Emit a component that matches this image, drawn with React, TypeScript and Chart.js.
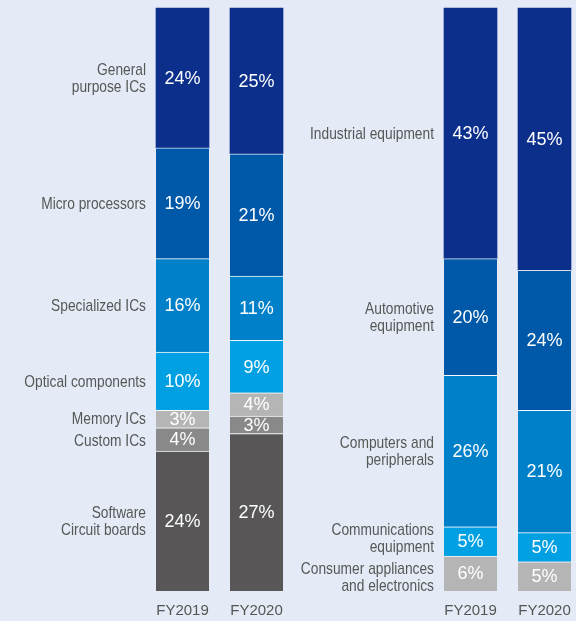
import React, { useEffect, useRef } from 'react';
import { Chart, registerables } from 'chart.js';

Chart.register(...registerables);

const YEARS = ['FY2019', 'FY2020'];

const LEFT_CATEGORIES = [
  'General\npurpose ICs',
  'Micro processors',
  'Specialized ICs',
  'Optical components',
  'Memory ICs',
  'Custom ICs',
  'Software\nCircuit boards',
];
const LEFT_FY2019 = [24, 19, 16, 10, 3, 4, 24];
const LEFT_FY2020 = [25, 21, 11, 9, 4, 3, 27];
const LEFT_COLORS = ['#0b2f8b', '#0058a8', '#0080c8', '#00a0e3', '#b5b5b5', '#898989', '#585657'];

const RIGHT_CATEGORIES = [
  'Industrial equipment',
  'Automotive\nequipment',
  'Computers and\nperipherals',
  'Communications\nequipment',
  'Consumer appliances\nand electronics',
];
const RIGHT_FY2019 = [43, 20, 26, 5, 6];
const RIGHT_FY2020 = [45, 24, 21, 5, 5];
const RIGHT_COLORS = ['#0b2f8b', '#0058a8', '#0080c8', '#00a0e3', '#b5b5b5'];

const BG = '#e4ebf6';
const TEXT_FONT = '"Liberation Sans", Arial, sans-serif';
const CONDENSE = 0.81;
const LINE_H = 17;
const MIN_GAP = 5;

const labelsPlugin = {
  id: 'segLabels',
  afterDatasetsDraw(chart: any) {
    const ctx = chart.ctx;
    ctx.save();
    const cats: { lines: string[]; cy: number; right: number }[] = [];
    chart.data.datasets.forEach((ds: any, di: number) => {
      const meta = chart.getDatasetMeta(di);
      meta.data.forEach((el: any, j: number) => {
        const { x, y, base, width } = el.getProps(['x', 'y', 'base', 'width'], true);
        const cy = (y + base) / 2;
        ctx.font = `18px ${TEXT_FONT}`;
        ctx.fillStyle = '#ffffff';
        ctx.textAlign = 'center';
        ctx.textBaseline = 'middle';
        ctx.fillText(`${ds.data[j]}%`, x, cy + 1);
        if (j === 0) {
          cats.push({ lines: String(ds.label).split('\n'), cy: cy + 1, right: x - width / 2 - 10 });
        }
      });
    });
    cats.sort((a, b) => a.cy - b.cy);
    for (let i = 1; i < cats.length; i++) {
      const a = cats[i - 1];
      const b = cats[i];
      const gap = b.cy - (b.lines.length * LINE_H) / 2 - (a.cy + (a.lines.length * LINE_H) / 2);
      if (gap < MIN_GAP) {
        const d = (MIN_GAP - gap) / 2;
        a.cy -= d;
        b.cy += d;
      }
    }
    ctx.font = `17px ${TEXT_FONT}`;
    ctx.fillStyle = '#575757';
    ctx.textAlign = 'right';
    ctx.textBaseline = 'middle';
    cats.forEach((c) => {
      c.lines.forEach((ln, k) => {
        ctx.save();
        ctx.translate(c.right, c.cy + (k - (c.lines.length - 1) / 2) * LINE_H);
        ctx.scale(CONDENSE, 1);
        ctx.fillText(ln, 0, 0);
        ctx.restore();
      });
    });
    ctx.restore();
  },
};

function makeConfig(categories: string[], fy2019: number[], fy2020: number[], colors: string[]): any {
  const datasets = categories
    .map((cat, i) => ({
      label: cat,
      data: [fy2019[i], fy2020[i]],
      backgroundColor: colors[i],
      borderColor: 'rgba(255,255,255,0.8)',
      borderWidth: i === 0 ? 0 : { top: 1, left: 0, right: 0, bottom: 0 },
      borderSkipped: 'start',
      barThickness: 53,
      clip: false,
    }))
    .reverse();
  return {
    type: 'bar',
    data: { labels: YEARS, datasets },
    options: {
      responsive: false,
      animation: false,
      devicePixelRatio: 1,
      layout: { padding: { left: 182.5, right: 31.5, top: 8, bottom: 0 } },
      scales: {
        x: {
          type: 'category',
          offset: false,
          stacked: true,
          grid: { display: false, drawTicks: false },
          border: { display: false },
          ticks: {
            padding: 11,
            color: '#555555',
            font: { family: TEXT_FONT, size: 15 },
            maxRotation: 0,
            autoSkip: false,
          },
          afterFit: (s: any) => {
            s.height = 30;
            s.paddingLeft = 0;
            s.paddingRight = 0;
          },
        },
        y: { stacked: true, min: 0, max: 100, display: false },
      },
      plugins: { legend: { display: false }, tooltip: { enabled: false } },
    },
    plugins: [labelsPlugin],
  };
}

function BarPanel(props: { categories: string[]; fy2019: number[]; fy2020: number[]; colors: string[]; left: number }) {
  const ref = useRef<HTMLCanvasElement>(null);
  useEffect(() => {
    const chart = new Chart(
      ref.current as HTMLCanvasElement,
      makeConfig(props.categories, props.fy2019, props.fy2020, props.colors)
    );
    return () => chart.destroy();
  }, []);
  return (
    <div style={{ position: 'absolute', left: props.left, top: 0, width: 288, height: 621 }}>
      <canvas ref={ref} width={288} height={621} style={{ display: 'block' }} />
    </div>
  );
}

export default function App() {
  useEffect(() => {
    document.body.style.margin = '0';
  }, []);
  return (
    <div style={{ position: 'fixed', left: 0, top: 0, width: 576, height: 621, background: BG, overflow: 'hidden' }}>
      <BarPanel categories={LEFT_CATEGORIES} fy2019={LEFT_FY2019} fy2020={LEFT_FY2020} colors={LEFT_COLORS} left={0} />
      <BarPanel categories={RIGHT_CATEGORIES} fy2019={RIGHT_FY2019} fy2020={RIGHT_FY2020} colors={RIGHT_COLORS} left={288} />
    </div>
  );
}
